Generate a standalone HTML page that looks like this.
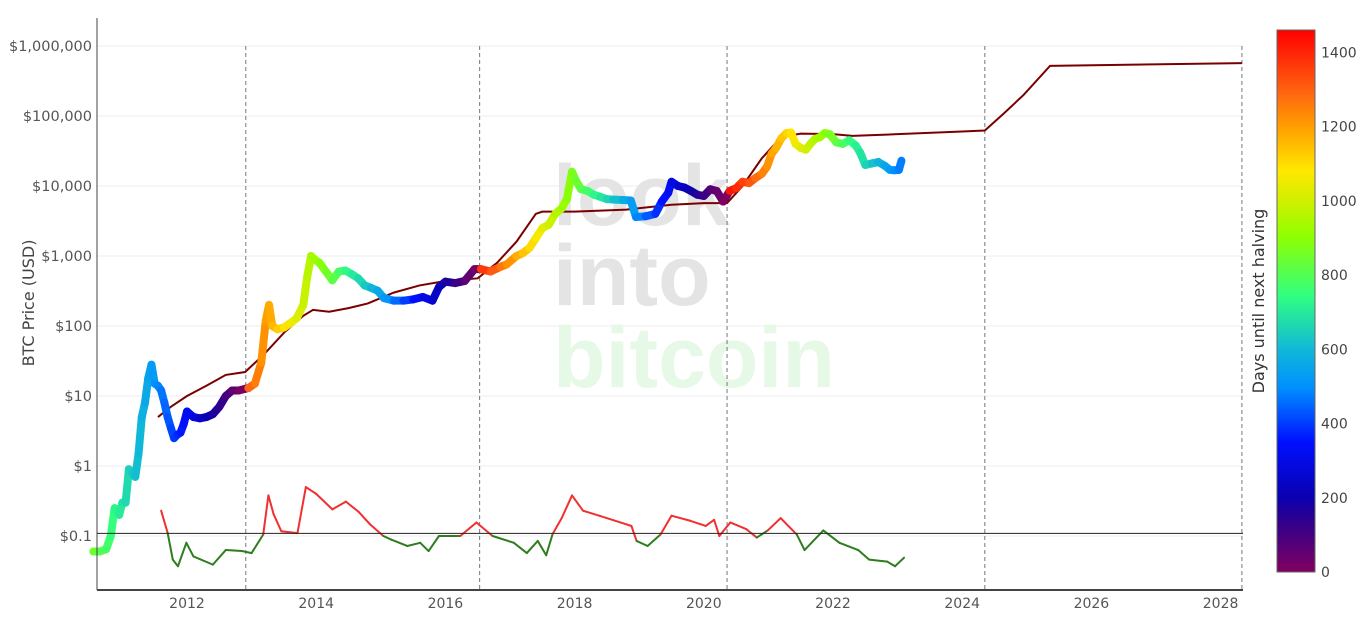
<!DOCTYPE html>
<html><head><meta charset="utf-8"><style>
body{margin:0;background:#fff;font-family:"DejaVu Sans",sans-serif;}
svg text{font-family:"DejaVu Sans",sans-serif;}
</style></head><body>
<svg id="chart" width="1370" height="622" xmlns="http://www.w3.org/2000/svg">
<defs>
<linearGradient id="cbg" x1="0" y1="1" x2="0" y2="0">
<stop offset="0" stop-color="#800060"/><stop offset="0.1" stop-color="#2a0090"/><stop offset="0.137" stop-color="#0a00b0"/><stop offset="0.24" stop-color="#0010ff"/><stop offset="0.34" stop-color="#0090ff"/><stop offset="0.41" stop-color="#10b8d8"/><stop offset="0.51" stop-color="#30ff80"/><stop offset="0.62" stop-color="#90ff00"/><stop offset="0.685" stop-color="#d0f000"/><stop offset="0.74" stop-color="#ffe800"/><stop offset="0.82" stop-color="#ffa000"/><stop offset="0.89" stop-color="#ff6010"/><stop offset="1" stop-color="#ff0000"/>
</linearGradient>
</defs>
<g id="grid"></g>
<g font-weight="bold" font-size="86">
<text x="553" y="225" fill="#e4e4e4" style="font-family:'Liberation Sans',sans-serif">look</text>
<text x="553" y="305" fill="#e4e4e4" style="font-family:'Liberation Sans',sans-serif">into</text>
<text x="553" y="387" fill="#e6f8e6" style="font-family:'Liberation Sans',sans-serif">bitcoin</text>
</g>
<g id="vlines"></g>
<g id="model"></g>
<g id="osc"></g>
<g id="price"></g>
<g id="axes"></g>
<g>
<rect x="1277" y="30" width="38" height="542" fill="url(#cbg)" stroke="#666" stroke-width="1"/>
<g id="cbticks" font-size="14" fill="#444"></g>
<text transform="translate(1264,301) rotate(-90)" text-anchor="middle" font-size="16" fill="#333">Days until next halving</text>
</g>
<text transform="translate(34,303) rotate(-90)" text-anchor="middle" font-size="16" fill="#444">BTC Price (USD)</text>
</svg>
<script>
const priceYears=[2010.55,2010.65,2010.75,2010.82,2010.88,2010.95,2011.0,2011.05,2011.1,2011.15,2011.2,2011.25,2011.3,2011.35,2011.4,2011.45,2011.5,2011.55,2011.6,2011.65,2011.7,2011.75,2011.8,2011.85,2011.9,2011.95,2012.0,2012.1,2012.2,2012.3,2012.4,2012.5,2012.6,2012.7,2012.8,2012.95,2013.05,2013.15,2013.22,2013.27,2013.32,2013.4,2013.5,2013.6,2013.7,2013.8,2013.86,2013.92,2013.97,2014.05,2014.15,2014.25,2014.35,2014.45,2014.55,2014.65,2014.75,2014.85,2014.95,2015.05,2015.2,2015.35,2015.5,2015.65,2015.8,2015.9,2016.0,2016.15,2016.3,2016.45,2016.55,2016.7,2016.85,2016.95,2017.1,2017.2,2017.3,2017.4,2017.5,2017.6,2017.7,2017.8,2017.88,2017.96,2018.02,2018.1,2018.2,2018.3,2018.4,2018.5,2018.6,2018.75,2018.87,2018.95,2019.1,2019.25,2019.35,2019.45,2019.5,2019.6,2019.7,2019.8,2019.9,2020.0,2020.1,2020.2,2020.3,2020.4,2020.5,2020.6,2020.7,2020.8,2020.9,2020.98,2021.05,2021.12,2021.2,2021.28,2021.35,2021.42,2021.5,2021.58,2021.65,2021.72,2021.8,2021.87,2021.95,2022.05,2022.15,2022.25,2022.35,2022.42,2022.5,2022.6,2022.7,2022.8,2022.88,2022.95,2023.02,2023.06];
const priceValues=[0.06,0.06,0.065,0.1,0.25,0.2,0.3,0.3,0.9,0.8,0.7,1.5,5,8,18,28,15,14,12,8,5,3.5,2.5,2.8,3,4,6,5,4.8,5,5.5,7,10,12,12,13,15,30,120,200,100,90,95,110,130,200,500,1000,900,800,600,450,600,620,550,480,380,350,320,250,230,230,240,260,230,360,430,410,440,650,650,600,700,760,1000,1100,1300,1800,2500,2800,4000,4800,6500,16000,12000,9000,8500,7500,7000,6500,6400,6300,6200,3600,3700,4000,6000,8000,11500,10000,9500,8500,7500,7200,9000,8500,6000,8500,9300,11500,11000,13000,15000,19000,29000,35000,48000,57000,58000,40000,35000,33000,40000,47000,50000,57000,55000,42000,40000,45000,38000,30000,20000,21000,22000,19500,17000,16800,17000,23000];
const modelYears=[2011.55,2011.75,2012.0,2012.3,2012.6,2012.9,2013.2,2013.5,2013.8,2013.95,2014.2,2014.5,2014.8,2015.2,2015.6,2016.0,2016.5,2016.8,2017.1,2017.4,2017.5,2018.0,2018.8,2019.5,2020.0,2020.36,2020.6,2020.9,2021.2,2021.5,2022.0,2022.3,2023.0,2024.0,2024.35,2024.65,2024.95,2025.36,2028.33];
const modelValues=[5,7,10,14,20,22,40,80,140,170,160,180,210,300,380,440,480,800,1600,4000,4300,4300,4600,5400,5700,5700,10000,25000,50000,56000,55000,52000,55000,60000,62000,110000,200000,520000,570000];
const oscYears=[2011.6,2011.7,2011.78,2011.86,2011.99,2012.1,2012.4,2012.6,2012.85,2013.0,2013.18,2013.26,2013.34,2013.46,2013.71,2013.84,2014.0,2014.25,2014.46,2014.66,2014.83,2015.04,2015.16,2015.41,2015.61,2015.74,2015.9,2016.23,2016.48,2016.73,2017.06,2017.26,2017.43,2017.56,2017.66,2017.8,2017.96,2018.13,2018.38,2018.71,2018.88,2018.96,2019.13,2019.33,2019.5,2019.79,2020.03,2020.16,2020.24,2020.41,2020.66,2020.82,2020.99,2021.19,2021.44,2021.56,2021.85,2022.1,2022.39,2022.56,2022.84,2022.96,2023.1];
const oscValues=[0.23,0.111,0.046,0.037,0.08,0.051,0.039,0.063,0.061,0.057,0.105,0.38,0.206,0.117,0.11,0.5,0.4,0.24,0.31,0.22,0.148,0.1,0.089,0.072,0.08,0.061,0.1,0.1,0.156,0.1,0.08,0.057,0.085,0.053,0.107,0.18,0.38,0.23,0.195,0.156,0.139,0.085,0.072,0.105,0.195,0.165,0.139,0.17,0.1,0.156,0.125,0.095,0.12,0.18,0.105,0.063,0.12,0.08,0.063,0.046,0.043,0.037,0.049];
const oscThreshold=0.109;
const halvings=[2012.91,2016.53,2020.36,2024.35,2028.33];
const yTicks=[1000000,100000,10000,1000,100,10,1,0.1];
const yTickLabels=["$1,000,000","$100,000","$10,000","$1,000","$100","$10","$1","$0.1"];
const xTicks=[2012,2014,2016,2018,2020,2022,2024,2026,2028];
const cbTicks=[0,200,400,600,800,1000,1200,1400];

const NS="http://www.w3.org/2000/svg";
const X0=97,X1=1243,Y0=18,Y1=590;
function xs(t){return 187+(t-2012)*64.6;}
function ys(v){return 46+(6-Math.log10(v))*70;}
function el(tag,attrs,parent){const e=document.createElementNS(NS,tag);for(const k in attrs)e.setAttribute(k,attrs[k]);parent.appendChild(e);return e;}
const stops=[[0,[128,0,96]],[146,[42,0,144]],[200,[10,0,176]],[350,[0,16,255]],[500,[0,144,255]],[600,[16,184,216]],[750,[48,255,128]],[900,[144,255,0]],[1000,[208,240,0]],[1080,[255,232,0]],[1200,[255,160,0]],[1300,[255,96,16]],[1460,[255,0,0]]];
function colorFor(d){d=Math.max(0,Math.min(1460,d));for(let i=1;i<stops.length;i++){if(d<=stops[i][0]){const a=stops[i-1],b=stops[i],f=(d-a[0])/(b[0]-a[0]);const c=a[1].map((v,j)=>Math.round(v+(b[1][j]-v)*f));return `rgb(${c[0]},${c[1]},${c[2]})`;}}return "rgb(255,0,0)";}
function daysTo(t){for(const h of halvings){if(h>=t)return (h-t)*365.25;}return 0;}

const grid=document.getElementById('grid'),axes=document.getElementById('axes');
yTicks.forEach((v,i)=>{
 const g=el('line',{x1:X0,x2:X1,y1:ys(v),y2:ys(v),stroke:'#eeeeee','stroke-width':1},grid);
 
 
 const t=el('text',{x:92,y:ys(v)+5,'text-anchor':'end','font-size':14.5,fill:'#555'},axes);
 t.textContent=yTickLabels[i];
 
 
});
xTicks.forEach(v=>{
 const t=el('text',{x:xs(v),y:608,'text-anchor':'middle','font-size':14,fill:'#555'},axes);
 t.textContent=v;
 
 
});
const al=el('line',{x1:X0,x2:X0,y1:Y0,y2:Y1,stroke:'#444','stroke-width':1},axes);


const bl=el('line',{x1:X0,x2:X1,y1:Y1,y2:Y1,stroke:'#444','stroke-width':2},axes);


const thr=el('line',{x1:X0,x2:X1,y1:ys(oscThreshold),y2:ys(oscThreshold),stroke:'#222','stroke-width':1},axes);



const vl=document.getElementById('vlines');
halvings.forEach(h=>{
 const l=el('line',{x1:xs(h),x2:xs(h),y1:Y0+28,y2:Y1,stroke:'#777','stroke-width':1,'stroke-dasharray':'4,3'},vl);
 
 
});

const m=document.getElementById('model');
const mp=el('polyline',{points:modelYears.map((t,i)=>xs(t)+','+ys(modelValues[i])).join(' '),fill:'none',stroke:'#7a0000','stroke-width':2},m);



const o=document.getElementById('osc');
for(let i=1;i<oscYears.length;i++){
 const a=oscValues[i-1],b=oscValues[i];
 const c=((a+b)/2>oscThreshold)?'#f03030':'#2e7d1e';
 const s=el('line',{x1:xs(oscYears[i-1]),y1:ys(a),x2:xs(oscYears[i]),y2:ys(b),stroke:c,'stroke-width':2,'stroke-linecap':'round'},o);
 
 
}

const p=document.getElementById('price');
for(let i=1;i<priceYears.length;i++){
 const c=colorFor(daysTo((priceYears[i-1]+priceYears[i])/2));
 const s=el('line',{x1:xs(priceYears[i-1]),y1:ys(priceValues[i-1]),x2:xs(priceYears[i]),y2:ys(priceValues[i]),stroke:c,'stroke-width':8,'stroke-linecap':'round'},p);
 
 
}

const cb=document.getElementById('cbticks');
cbTicks.forEach(v=>{
 const y=572-v/1460*542;
 const t=el('text',{x:1321,y:y+5},cb);
 t.textContent=v;
 
 
});
</script>
</body></html>
